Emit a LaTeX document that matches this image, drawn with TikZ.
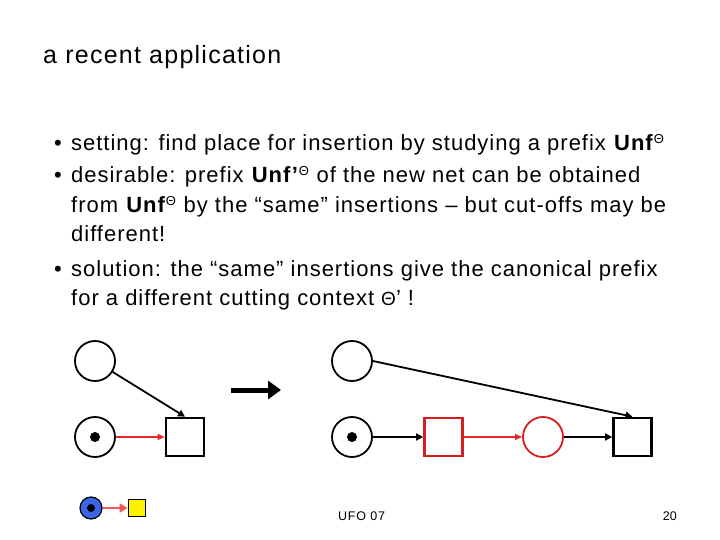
\documentclass[tikz,border=0pt]{standalone}
\usepackage{fontspec}
\setmainfont{Liberation Sans}
\usetikzlibrary{arrows.meta}
\definecolor{netred}{RGB}{214,30,30}
\definecolor{arcred}{RGB}{228,40,40}
\definecolor{lightred}{RGB}{240,90,90}
\definecolor{tokblue}{RGB}{60,100,230}
\tikzset{
  place/.style={circle,draw,line width=1.8pt,minimum size=40pt,inner sep=0pt},
  trans/.style={rectangle,draw,line width=2.6pt,minimum size=38pt,inner sep=0pt},
  tok/.style={circle,fill=black,minimum size=10pt,inner sep=0pt},
  arc/.style={line width=1.8pt,-{Triangle[length=7pt,width=7pt]}},
  redarc/.style={arcred,line width=1.3pt,-{Triangle[length=7pt,width=6pt]}},
  txt/.style={anchor=base west,inner sep=0pt,font=\fontsize{22}{26}\selectfont\addfontfeature{LetterSpace=4.5}},
  bul/.style={anchor=base,inner sep=0pt,font=\fontsize{22}{26}\selectfont}
}
\newcommand{\Th}{\textsuperscript{\fontsize{13}{14}\selectfont Θ}}
\begin{document}
\begin{tikzpicture}[x=1pt,y=-1pt]
\useasboundingbox[fill=white] (0,0) rectangle (720,540);
% title
\node[anchor=base west,inner sep=0pt,font=\fontsize{25}{28}\selectfont\addfontfeature{LetterSpace=5}] (title) at (43,64) {a recent application};
% bullets
\node[bul] (b1) at (58,151) {•};
\node[txt] (l1) at (71,151) {setting: find place for insertion by studying a prefix \textbf{Unf}\Th};
\node[bul] (b2) at (58,183) {•};
\node[txt] (l2) at (71,183) {desirable: prefix \textbf{Unf’}\Th{} of the new net can be obtained};
\node[txt] (l3) at (71,213) {from \textbf{Unf}\Th{} by the “same” insertions – but cut-offs may be};
\node[txt] (l4) at (71,241) {different!};
\node[bul] (b3) at (58,276) {•};
\node[txt] (l5) at (71,276) {solution: the “same” insertions give the canonical prefix};
\node[txt] (l6) at (71,305) {for a different cutting context {\fontsize{19}{20}\selectfont Θ}’ !};
% left net
\node[place] (p1) at (95,361) {};
\node[place] (p2) at (95,437) {};
\node[tok] (k2) at (95,437) {};
\node[trans] (t1) at (185,437) {};
\draw[arc] (p1) -- (t1.north);
\draw[redarc] (p2) -- (t1);
% big arrow
\coordinate (ga) at (231,390);
\coordinate (gb) at (281,390);
\draw[line width=5pt,-{Triangle[length=13pt,width=18pt]}] (ga) -- (gb);
% right net
\node[place] (p3) at (352,361) {};
\node[place] (p4) at (352,437) {};
\node[tok] (k4) at (352,437) {};
\node[trans,draw=netred] (t2) at (443.5,437) {};
\node[place,draw=netred] (p5) at (543,437) {};
\node[trans] (t3) at (632.5,437) {};
\draw[arc] (p3.east) -- (t3.north);
\draw[arc,line width=1.3pt] (p4) -- (t2);
\draw[redarc] (t2) -- (p5);
\draw[arc,line width=1.3pt] (p5) -- (t3);
% legend
\node[circle,draw,line width=1.2pt,fill=tokblue,minimum size=22pt,inner sep=0pt] (lp) at (91,508) {};
\node[tok,minimum size=8pt] (lk) at (91,508) {};
\node[rectangle,draw,line width=0.8pt,fill=yellow,minimum size=17pt,inner sep=0pt] (lt) at (136.5,508) {};
\draw[lightred,line width=2.5pt,-{Triangle[length=8pt,width=9pt]}] (lp) -- (lt);
% footer
\node[anchor=base west,inner sep=0pt,font=\fontsize{12.5}{14}\selectfont\addfontfeature{LetterSpace=6}] (foot) at (338,520) {UFO 07};
\node[anchor=base east,inner sep=0pt,font=\fontsize{12.5}{14}\selectfont] (page) at (677,520) {20};
\end{tikzpicture}
\end{document}
